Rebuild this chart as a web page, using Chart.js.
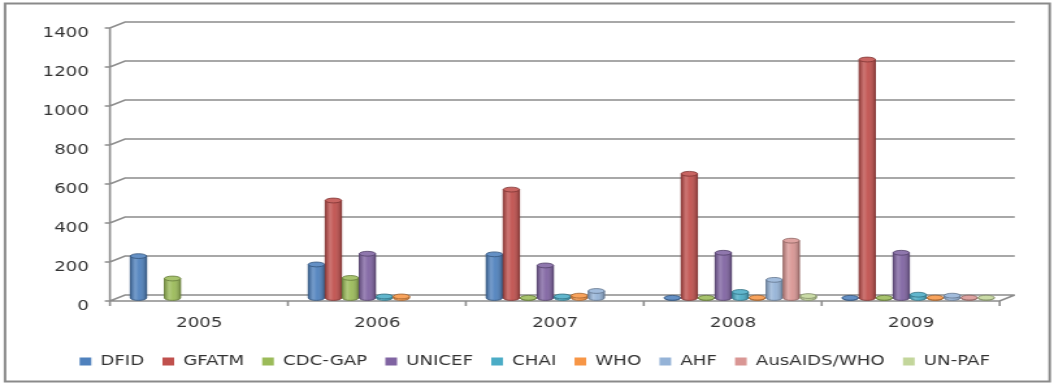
<!DOCTYPE html>
<html>
<head>
<meta charset="utf-8">
<script src="https://cdn.jsdelivr.net/npm/chart.js@4"></script>
<style>
  html, body { margin: 0; padding: 0; background: #fff; overflow: hidden; }
  /* the chart is laid out narrow and widened to the page, giving the wide lettering */
  #wrap { width: 811px; height: 386px; transform: scaleX(1.2996); transform-origin: 0 0; }
</style>
</head>
<body>
<div id="wrap"><canvas id="fundChart" width="811" height="386"></canvas></div>
<script>
// Funding by donor and year
var years = ['2005', '2006', '2007', '2008', '2009'];
var donors = ['DFID', 'GFATM', 'CDC-GAP', 'UNICEF', 'CHAI', 'WHO', 'AHF', 'AusAIDS/WHO', 'UN-PAF'];

var dfid     = [215, 172, 224, 1, 1];
var gfatm    = [null, 500, 556, 637, 1223];
var cdcGap   = [100, 103, 1, 1, 1];
var unicef   = [null, 227, 167, 232, 232];
var chai     = [null, 8, 8, 31, 17];
var who      = [null, 8, 12, 2, 2];
var ahf      = [null, null, 36, 93, 12];
var ausaids  = [null, null, null, 294, 2];
var unPaf    = [null, null, null, 10, 2];

var yTicks = [0, 200, 400, 600, 800, 1000, 1200, 1400];

var series = [dfid, gfatm, cdcGap, unicef, chai, who, ahf, ausaids, unPaf];
var colours = ['#4F81BD', '#C0504D', '#9BBB59', '#8064A2', '#4BACC6', '#F79646', '#95B3D7', '#D99694', '#C3D69B'];

// lighten (f > 0) or darken (f < 0) a hex colour
function shade(hex, f) {
    var n = parseInt(hex.slice(1), 16);
    var c = [n >> 16, (n >> 8) & 255, n & 255].map(function (v) {
        return Math.round(f < 0 ? v * (1 + f) : v + (255 - v) * f);
    });
    return 'rgb(' + c.join(',') + ')';
}

// the bars stand mid-way between the front axis and the back wall
var DX = 5.8, DY = 3;
var GRID = '#8c8c8c';

// back wall gridlines, front axis and floor
var wallPlugin = {
    id: 'wall',
    afterLayout: function (chart) {
        // legend sits a little right of centre
        chart.legend.left += 15;
        chart.legend.right += 15;
    },
    beforeDraw: function (chart) {
        var ctx = chart.ctx;
        ctx.save();
        ctx.strokeStyle = '#8a8a8a';
        ctx.lineWidth = 2;
        ctx.strokeRect(3.9, 3.5, 803.8, 378);
        ctx.restore();
    },
    beforeDatasetsDraw: function (chart) {
        var ctx = chart.ctx, a = chart.chartArea, y = chart.scales.y;
        ctx.save();
        ctx.strokeStyle = GRID;
        ctx.lineWidth = 1.6;
        ctx.beginPath();
        yTicks.forEach(function (v) {
            var py = y.getPixelForValue(v);
            ctx.moveTo(a.left - DX - 4, py + DY);
            ctx.lineTo(a.left - DX, py + DY);
            ctx.lineTo(a.left + DX, py - DY);
            ctx.lineTo(a.right + DX, py - DY);
        });
        var top = y.getPixelForValue(y.max) + DY, base = y.getPixelForValue(0) + DY;
        ctx.moveTo(a.left - DX, top);
        ctx.lineTo(a.left - DX, base);
        ctx.lineTo(a.right - DX, base);
        ctx.lineTo(a.right + DX, base - 2 * DY);
        var step = a.width / years.length;
        for (var i = 0; i <= years.length; i++) {
            var px = a.left - DX + i * step;
            ctx.moveTo(px, base);
            ctx.lineTo(px, base + 5);
        }
        ctx.stroke();
        ctx.restore();
    }
};

// round the flat bars into cylinders
var cylinderPlugin = {
    id: 'cylinders',
    afterDatasetsDraw: function (chart) {
        var ctx = chart.ctx;
        chart.data.datasets.forEach(function (ds, i) {
            var meta = chart.getDatasetMeta(i);
            meta.data.forEach(function (bar, j) {
                if (ds.data[j] == null) return;
                var p = bar.getProps(['x', 'y', 'base', 'width'], true);
                var l = p.x - p.width / 2, rx = p.width / 2, ry = 2.4;
                var col = colours[i];
                var g = ctx.createLinearGradient(l, 0, l + p.width, 0);
                g.addColorStop(0, 'rgba(0,0,0,0.22)');
                g.addColorStop(0.3, 'rgba(255,255,255,0.22)');
                g.addColorStop(0.55, 'rgba(255,255,255,0.05)');
                g.addColorStop(1, 'rgba(0,0,0,0.28)');
                ctx.save();
                // body with rounded foot
                ctx.beginPath();
                ctx.moveTo(l, p.y);
                ctx.lineTo(l, p.base);
                ctx.ellipse(p.x, p.base, rx, ry, 0, Math.PI, 0, true);
                ctx.lineTo(l + p.width, p.y);
                ctx.closePath();
                ctx.fillStyle = col;
                ctx.fill();
                ctx.fillStyle = g;
                ctx.fill();
                ctx.strokeStyle = shade(col, -0.35);
                ctx.lineWidth = 0.8;
                ctx.stroke();
                // top cap
                ctx.beginPath();
                ctx.ellipse(p.x, p.y, rx, ry, 0, 0, Math.PI * 2);
                ctx.fillStyle = shade(col, 0.12);
                ctx.fill();
                ctx.stroke();
                ctx.restore();
            });
        });
    }
};

var datasets = donors.map(function (name, i) {
    return {
        label: name,
        data: series[i],
        backgroundColor: colours[i],
        borderWidth: 0,
        barPercentage: 0.95,
        categoryPercentage: 0.86
    };
});

var font = { family: 'DejaVu Sans', size: 14 };

new Chart(document.getElementById('fundChart'), {
    type: 'bar',
    data: { labels: years, datasets: datasets },
    plugins: [wallPlugin, cylinderPlugin],
    options: {
        responsive: false,
        animation: false,
        layout: { padding: { left: 18, right: 36, top: 25, bottom: 7.5 } },
        scales: {
            x: {
                grid: { display: false, drawTicks: false },
                border: { display: false },
                ticks: { font: font, color: '#333', padding: 17, labelOffset: -5.5 },
                afterFit: function (s) { s.height = 42.5; }
            },
            y: {
                min: 0,
                max: 1400,
                grid: { display: false, drawTicks: false },
                border: { display: false },
                ticks: {
                    stepSize: 200, font: font, color: '#333', padding: 22, labelOffset: 8,
                    callback: function (v) { return String(v); }
                },
                afterFit: function (s) {
                    s.width = 72.4;
                    s.paddingTop = 0;
                    s.paddingBottom = 0;
                }
            }
        },
        plugins: {
            tooltip: { enabled: false },
            legend: {
                position: 'bottom',
                labels: {
                    font: font,
                    color: '#333',
                    boxWidth: 9,
                    boxHeight: 8,
                    padding: 14,
                    generateLabels: function (chart) {
                        return Chart.defaults.plugins.legend.labels.generateLabels(chart).map(function (l) {
                            l.lineWidth = 0;
                            return l;
                        });
                    }
                }
            }
        }
    }
});
</script>
</body>
</html>
